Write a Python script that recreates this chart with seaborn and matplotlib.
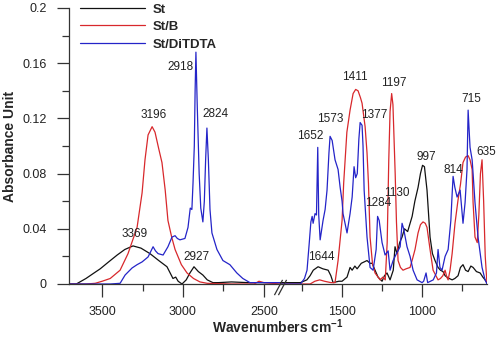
import pandas as pd
import seaborn as sns
import matplotlib.pyplot as plt
from matplotlib.ticker import MultipleLocator, FuncFormatter

# FTIR spectra (wavenumber cm-1, absorbance)
st_wn = [3705, 3660, 3600, 3550, 3512, 3460, 3407, 3360, 3309, 3260, 3204, 3150, 3099, 3075,
         3062, 3045, 3030, 3006, 2980, 2957, 2932, 2905, 2877, 2850, 2815, 2780, 2700, 2600,
         2500, 2400, 1888, 1760, 1720, 1700, 1680, 1650, 1620, 1587, 1570, 1556, 1520, 1500,
         1469, 1450, 1437, 1420, 1406, 1380, 1344, 1325, 1312, 1294, 1275, 1250, 1235, 1219,
         1200, 1180, 1169, 1156, 1140, 1125, 1110, 1090, 1062, 1045, 1025, 1010, 997, 985,
         969, 950, 935, 919, 900, 885, 869, 856, 844, 830, 812, 795, 775, 760, 744, 728, 712,
         695, 681, 660, 637, 620, 606, 594]
st_abs = [0.0, 0.0, 0.004, 0.008, 0.011, 0.016, 0.021, 0.025, 0.0276, 0.026, 0.022, 0.017,
          0.0125, 0.007, 0.004, 0.005, 0.002, 0.0, 0.003, 0.008, 0.0125, 0.009, 0.0065, 0.003,
          0.001, 0.001, 0.0015, 0.001, 0.001, 0.001, 0.001, 0.001, 0.003, 0.006, 0.010, 0.0125,
          0.011, 0.010, 0.006, 0.001, 0.002, 0.002, 0.005, 0.012, 0.010, 0.013, 0.011, 0.015,
          0.017, 0.015, 0.015, 0.010, 0.005, 0.002, 0.006, 0.008, 0.003, 0.010, 0.027, 0.022,
          0.030, 0.034, 0.040, 0.038, 0.049, 0.060, 0.070, 0.080, 0.086, 0.085, 0.068, 0.034,
          0.022, 0.017, 0.012, 0.010, 0.009, 0.006, 0.005, 0.004, 0.003, 0.004, 0.006, 0.012,
          0.014, 0.010, 0.009, 0.013, 0.012, 0.009, 0.008, 0.005, 0.003, 0.001]

stb_wn = [3705, 3600, 3543, 3500, 3450, 3389, 3340, 3284, 3253, 3235, 3216, 3191, 3173, 3150,
          3130, 3110, 3093, 3070, 3049, 3010, 2975, 2935, 2895, 2850, 2700, 2560, 2530, 2500,
          2400, 1888, 1700, 1670, 1640, 1610, 1570, 1544, 1525, 1500, 1490, 1470, 1450, 1431,
          1415, 1400, 1385, 1375, 1356, 1344, 1335, 1325, 1310, 1294, 1275, 1262, 1245, 1230,
          1218, 1208, 1200, 1190, 1182, 1175, 1168, 1160, 1150, 1135, 1119, 1100, 1075, 1060,
          1044, 1025, 1010, 994, 980, 969, 950, 931, 900, 885, 870, 856, 845, 837, 825, 812,
          794, 775, 760, 744, 728, 712, 700, 687, 681, 669, 655, 645, 635, 625, 615, 605, 594]
stb_abs = [0.0, 0.0, 0.0005, 0.002, 0.004, 0.010, 0.022, 0.041, 0.066, 0.090, 0.108, 0.114,
           0.110, 0.098, 0.088, 0.068, 0.046, 0.034, 0.025, 0.014, 0.008, 0.004, 0.0015, 0.0005,
           0.0, 0.0, 0.002, 0.001, 0.0, 0.0, 0.0, 0.002, 0.003, 0.002, 0.001, 0.001, 0.017,
           0.046, 0.073, 0.110, 0.126, 0.138, 0.141, 0.140, 0.135, 0.131, 0.114, 0.095, 0.073,
           0.034, 0.015, 0.008, 0.005, 0.003, 0.005, 0.003, 0.030, 0.090, 0.125, 0.138, 0.130,
           0.105, 0.080, 0.045, 0.017, 0.012, 0.010, 0.011, 0.012, 0.018, 0.025, 0.037, 0.043,
           0.045, 0.044, 0.041, 0.025, 0.010, 0.003, 0.004, 0.006, 0.010, 0.005, 0.003, 0.010,
           0.022, 0.044, 0.061, 0.072, 0.088, 0.092, 0.093, 0.090, 0.083, 0.059, 0.034, 0.030,
           0.050, 0.080, 0.090, 0.060, 0.020, 0.0]

sttd_wn = [3705, 3450, 3389, 3358, 3315, 3284, 3253, 3216, 3185, 3170, 3154, 3123, 3093, 3068,
           3049, 3035, 3019, 2988, 2969, 2955, 2945, 2938, 2930, 2925, 2920, 2912, 2900, 2890,
           2877, 2868, 2860, 2852, 2843, 2833, 2821, 2790, 2753, 2710, 2667, 2630, 2586, 2400,
           1888, 1760, 1735, 1719, 1705, 1695, 1687, 1681, 1669, 1660, 1652, 1646, 1637, 1619,
           1606, 1594, 1582, 1575, 1562, 1544, 1525, 1512, 1500, 1494, 1469, 1450, 1437, 1425,
           1415, 1405, 1395, 1387, 1375, 1369, 1362, 1344, 1325, 1306, 1287, 1278, 1268, 1250,
           1231, 1212, 1200, 1181, 1160, 1137, 1125, 1115, 1094, 1075, 1056, 1031, 1000, 990,
           975, 965, 930, 910, 900, 888, 875, 856, 837, 820, 812, 806, 795, 781, 762, 744, 731,
           719, 712, 705, 700, 687, 681, 669, 650, 625, 606, 594]
sttd_abs = [0.0, 0.0, 0.0005, 0.0065, 0.0116, 0.014, 0.016, 0.0196, 0.027, 0.024, 0.022, 0.021,
            0.027, 0.034, 0.035, 0.033, 0.032, 0.033, 0.041, 0.055, 0.054, 0.073, 0.100, 0.140,
            0.168, 0.130, 0.080, 0.055, 0.045, 0.060, 0.090, 0.113, 0.090, 0.054, 0.037, 0.025,
            0.017, 0.014, 0.008, 0.004, 0.001, 0.001, 0.0, 0.0, 0.004, 0.010, 0.030, 0.045,
            0.049, 0.044, 0.051, 0.050, 0.099, 0.050, 0.032, 0.046, 0.054, 0.068, 0.095, 0.107,
            0.104, 0.090, 0.083, 0.070, 0.060, 0.051, 0.037, 0.051, 0.063, 0.085, 0.077, 0.080,
            0.105, 0.117, 0.115, 0.100, 0.068, 0.034, 0.012, 0.010, 0.025, 0.049, 0.046, 0.030,
            0.021, 0.024, 0.010, 0.017, 0.022, 0.027, 0.044, 0.040, 0.027, 0.020, 0.010, 0.003,
            0.001, 0.002, 0.008, 0.001, 0.003, 0.008, 0.025, 0.012, 0.010, 0.020, 0.025, 0.046,
            0.065, 0.078, 0.070, 0.063, 0.068, 0.044, 0.059, 0.083, 0.126, 0.110, 0.099, 0.090,
            0.080, 0.059, 0.034, 0.012, 0.003, 0.0]

samples = ['St', 'St/B', 'St/DiTDTA']
colors = {'St': '#111111', 'St/B': '#d8282c', 'St/DiTDTA': '#2424c8'}

# peak labels: (text, wavenumber, absorbance) for text placement
left_peaks = [('3369', 3302, 0.036), ('3196', 3182, 0.1225), ('2918', 3018, 0.157),
              ('2824', 2802, 0.123), ('2927', 2917, 0.0196)]
right_peaks = [('1652', 1700, 0.107), ('1573', 1575, 0.1196), ('1411', 1419, 0.150),
               ('1377', 1297, 0.1225), ('1197', 1175, 0.1457), ('1644', 1631, 0.0196),
               ('1284', 1275, 0.0587), ('1130', 1156, 0.066), ('997', 975, 0.092),
               ('814', 806, 0.0826), ('715', 694, 0.134), ('635', 600, 0.0957)]

frames = []
for name, wn, ab in zip(samples, [st_wn, stb_wn, sttd_wn], [st_abs, stb_abs, sttd_abs]):
    frames.append(pd.DataFrame({'Wavenumber': wn, 'Absorbance': ab, 'Sample': name}))
data = pd.concat(frames, ignore_index=True)

sns.set_style('ticks')
plt.rcParams['font.family'] = ['Liberation Sans', 'DejaVu Sans']
plt.rcParams['mathtext.fontset'] = 'custom'
plt.rcParams['mathtext.rm'] = 'Liberation Sans'
plt.rcParams['mathtext.bf'] = 'Liberation Sans:bold'

fig = plt.figure(figsize=(4.98, 3.39), dpi=100)
ax1 = fig.add_axes([69 / 498, 55 / 339, 211 / 498, 276 / 339])
ax2 = fig.add_axes([280 / 498, 55 / 339, 207 / 498, 276 / 339], sharey=ax1)

for ax, legend in [(ax1, True), (ax2, False)]:
    sns.lineplot(data=data, x='Wavenumber', y='Absorbance', hue='Sample', hue_order=samples,
                 palette=colors, estimator=None, linewidth=0.9, legend=legend, ax=ax)
    ax.set(xlabel=None, ylabel=None)
    ax.spines['top'].set_visible(False)
    ax.spines['right'].set_visible(False)
    for s in ['left', 'bottom']:
        ax.spines[s].set_color('#333333')
        ax.spines[s].set_linewidth(0.9)
    ax.xaxis.set_major_locator(MultipleLocator(500))
    ax.xaxis.set_minor_locator(MultipleLocator(250))
    ax.tick_params(which='both', direction='out', color='#333333', width=0.9,
                   labelsize=9, labelcolor='#222222', pad=7)
    ax.tick_params(which='major', length=9)
    ax.tick_params(which='minor', length=5)

ax1.set_xlim(3705, 2400)
ax2.set_xlim(1888, 594)
ax1.set_ylim(0, 0.2)
ax1.yaxis.set_major_locator(MultipleLocator(0.04))
ax1.yaxis.set_minor_locator(MultipleLocator(0.02))
ax1.yaxis.set_major_formatter(FuncFormatter(lambda v, p: f'{round(v, 3):g}'))
ax2.spines['left'].set_visible(False)
ax2.tick_params(axis='y', which='both', left=False, labelleft=False)

ax1.set_ylabel('Absorbance Unit', fontweight='bold', fontsize=10, labelpad=4)
fig.text(0.558, 0.035, r'Wavenumbers cm$^{\mathbf{-1}}$', ha='center', va='center',
         fontweight='bold', fontsize=10)

for ax, peaks in [(ax1, left_peaks), (ax2, right_peaks)]:
    for txt, x, y in peaks:
        ax.text(x, y, txt, ha='center', va='center', fontsize=8.5, color='#222222',
                clip_on=False)

# axis break marks
for dx in (-0.012, 0.012):
    ax2.plot([dx], [-0.011], transform=ax2.transAxes, marker=[(-0.8, -1.5), (0.8, 1.5)],
             markersize=11, color='#333333', mew=0.9, linestyle='none', clip_on=False)

handles, labels = ax1.get_legend_handles_labels()
ax1.legend(handles, labels, loc='upper left', bbox_to_anchor=(0.052, 1.017), frameon=False,
           prop=dict(weight='bold', size=9.5), handlelength=4.9, handletextpad=0.6,
           labelspacing=0.4, borderaxespad=0, borderpad=0)

plt.savefig('out.png', dpi=100)
